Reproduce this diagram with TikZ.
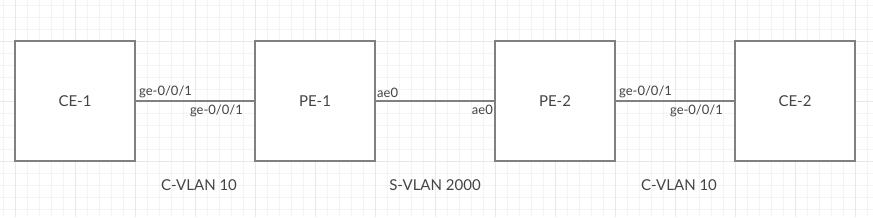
\documentclass[tikz,border=0pt]{standalone}
\usepackage{fontspec}
\setmainfont{Lato}
\usetikzlibrary{positioning}

\definecolor{gridminor}{RGB}{244,244,244}
\definecolor{gridmajor}{RGB}{232,232,232}
\definecolor{boxline}{RGB}{128,128,128}
\definecolor{labeltext}{RGB}{68,68,68}

\begin{document}
\begin{tikzpicture}[
    x=1pt, y=-1pt,
    font=\fontsize{15}{18}\selectfont,
    device/.style={draw=boxline, line width=2pt, fill=white, minimum width=120pt,
                   minimum height=120pt, inner sep=0pt, text=labeltext},
    link/.style={draw=boxline, line width=2pt},
    portlbl/.style={font=\fontsize{13}{15}\selectfont, text=labeltext, inner sep=1pt},
    vlanlbl/.style={font=\fontsize{15}{18}\selectfont, text=labeltext},
]

% ===== Background grid =====
\useasboundingbox (0,0) rectangle (873,217);
\fill[white] (0,0) rectangle (873,217);
\foreach \gx in {3,15,...,867} {
    \draw[gridminor, line width=1pt] (\gx,0) -- (\gx,217);
}
\foreach \gy in {5,17,...,209} {
    \draw[gridminor, line width=1pt] (0,\gy) -- (873,\gy);
}
\foreach \gx in {15,75,...,855} {
    \draw[gridmajor, line width=1pt] (\gx,0) -- (\gx,217);
}
\foreach \gy in {41,101,161} {
    \draw[gridmajor, line width=1pt] (0,\gy) -- (873,\gy);
}

% ===== Devices =====
\node[device] (ce1) at (75,101) {CE-1};
\node[device] (pe1) at (315,101) {PE-1};
\node[device] (pe2) at (555,101) {PE-2};
\node[device] (ce2) at (795,101) {CE-2};

% ===== Links =====
\draw[link] (ce1.east) -- (pe1.west);
\draw[link] (pe1.east) -- (pe2.west);
\draw[link] (pe2.east) -- (ce2.west);

% ===== Port labels =====
\node[portlbl, anchor=south west] (p1a) at ([xshift=2pt, yshift=2pt]ce1.east) {ge-0/0/1};
\node[portlbl, anchor=north east] (p1b) at ([xshift=-10pt, yshift=-3pt]pe1.west) {ge-0/0/1};
\node[portlbl, anchor=south west] (p2a) at ([xshift=0pt, yshift=2pt]pe1.east) {ae0};
\node[portlbl, anchor=north east] (p2b) at ([xshift=0pt, yshift=-3pt]pe2.west) {ae0};
\node[portlbl, anchor=south west] (p3a) at ([xshift=2pt, yshift=2pt]pe2.east) {ge-0/0/1};
\node[portlbl, anchor=north east] (p3b) at ([xshift=-10pt, yshift=-3pt]ce2.west) {ge-0/0/1};

% ===== VLAN labels =====
\node[vlanlbl] (vl1) at (199,185) {C-VLAN 10};
\node[vlanlbl] (vl2) at (435,185) {S-VLAN 2000};
\node[vlanlbl] (vl3) at (679,185) {C-VLAN 10};

\end{tikzpicture}
\end{document}
